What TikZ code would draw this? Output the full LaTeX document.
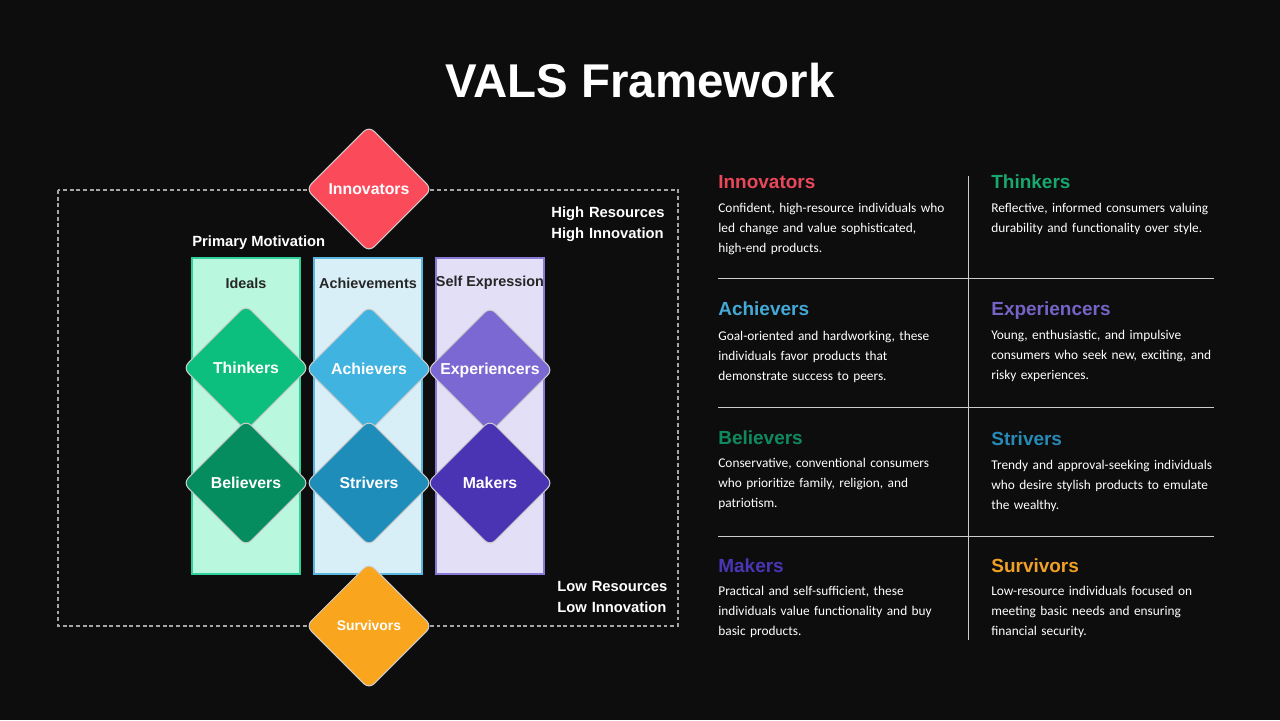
\documentclass[tikz,border=0pt]{standalone}
\usepackage{fontspec}
\setmainfont{Liberation Sans}
\newfontfamily\bodyfont{Carlito}
\usetikzlibrary{shapes.geometric}

\definecolor{bg}{HTML}{0D0D0D}
\definecolor{innov}{HTML}{FB4B5B}
\definecolor{surv}{HTML}{F9A61E}
\definecolor{think}{HTML}{0DBF7F}
\definecolor{believ}{HTML}{068D5F}
\definecolor{achiev}{HTML}{41B3E0}
\definecolor{striv}{HTML}{1E8DBA}
\definecolor{exper}{HTML}{7B68D2}
\definecolor{make}{HTML}{4B34B4}
\definecolor{idealsfill}{HTML}{B9F7DF}
\definecolor{idealsline}{HTML}{2FD19A}
\definecolor{achfill}{HTML}{D8EFF8}
\definecolor{achline}{HTML}{5AB8E0}
\definecolor{selffill}{HTML}{E3DFF6}
\definecolor{selfline}{HTML}{8A7AD8}
\definecolor{innovhd}{HTML}{E8485A}
\definecolor{thinkhd}{HTML}{17A870}
\definecolor{achievhd}{HTML}{44A9D6}
\definecolor{experhd}{HTML}{7563C6}
\definecolor{believhd}{HTML}{0F8A5F}
\definecolor{strivhd}{HTML}{2889B5}
\definecolor{makehd}{HTML}{4A35B5}
\definecolor{survhd}{HTML}{F0A024}

\begin{document}
\begin{tikzpicture}[x=0.02cm, y=-0.02cm,
    gem/.style={diamond, aspect=1, minimum width=2.52cm, minimum height=2.52cm, inner sep=0pt, rounded corners=4pt, draw=white!80!black, line width=0.6pt, text=white, font=\bfseries\fontsize{9}{10}\selectfont},
    band/.style={rectangle, minimum width=2.16cm, minimum height=6.32cm, line width=0.8pt},
    colhead/.style={text=black!85, inner sep=0pt, font=\bfseries\fontsize{8.2}{9}\selectfont},
    tag/.style={anchor=base west, inner sep=0pt, text=white, text width=3cm, align=left, font=\bfseries\fontsize{8.4}{12.5}\selectfont},
    heading/.style={anchor=base west, inner sep=0pt, font=\bfseries\fontsize{10.8}{12}\selectfont},
    blurb/.style={anchor=base west, inner sep=0pt, text=white, text width=5.2cm, align=left, font=\bodyfont\fontsize{7.6}{11.4}\selectfont},
    rule/.style={draw=white!80!black, line width=0.5pt}
]

\useasboundingbox[fill=bg] (0,0) rectangle (1280,720);

\node[anchor=base, text=white, font=\bfseries\fontsize{27}{30}\selectfont] (title) at (640,97) {VALS Framework};

% Resource frame
\draw[draw=white!65!black, line width=0.6pt, dash pattern=on 2.2pt off 1.6pt] (58,190) rectangle (678,626);

% Motivation columns
\node[band, fill=idealsfill, draw=idealsline] (ideals) at (246,416) {};
\node[band, fill=achfill, draw=achline] (achievements) at (368,416) {};
\node[band, fill=selffill, draw=selfline] (selfexpr) at (490,416) {};

\node[colhead] (idealshead) at (246,283) {Ideals};
\node[colhead] (achievhead) at (368,283) {Achievements};
\node[colhead] (selfhead) at (490,283) {Self Expression};

% Segments
\node[gem, fill=innov] (innovators) at (369,189) {Innovators};

\node[gem, fill=think] (thinkers) at (246,368) {Thinkers};
\node[gem, fill=believ] (believers) at (246,483) {Believers};
\node[gem, fill=achiev] (achievers) at (369,369) {Achievers};
\node[gem, fill=striv] (strivers) at (369,483) {Strivers};
\node[gem, fill=exper] (experiencers) at (490,370) {Experiencers};
\node[gem, fill=make] (makers) at (490,483) {Makers};

\node[gem, fill=surv, font=\bfseries\fontsize{7.9}{9}\selectfont] (survivors) at (369,626) {Survivors};

% Axis labels
\node[anchor=base west, inner sep=0pt, text=white, font=\bfseries\fontsize{8.4}{10}\selectfont] (motivation) at (192,246) {Primary Motivation};
\node[tag] (hightag) at (551,217) {High Resources\\High Innovation};
\node[tag] (lowtag) at (557,591) {Low Resources\\Low Innovation};

% Description grid
\draw[rule] (968,176) -- (968,640);
\draw[rule] (718,278) -- (1214,278);
\draw[rule] (718,407) -- (1214,407);
\draw[rule] (718,536) -- (1214,536);

\node[heading, text=innovhd] (innovhead) at (718,188) {Innovators};
\node[blurb] (innovtext) at (718,212) {Confident, high-resource individuals who\\led change and value sophisticated,\\high-end products.};

\node[heading, text=thinkhd] (thinkhead) at (991,188) {Thinkers};
\node[blurb] (thinktext) at (991,212) {Reflective, informed consumers valuing\\durability and functionality over style.};

\node[heading, text=achievhd] (achievhead2) at (718,315) {Achievers};
\node[blurb] (achievtext) at (718,340) {Goal-oriented and hardworking, these\\individuals favor products that\\demonstrate success to peers.};

\node[heading, text=experhd] (experhead) at (991,315) {Experiencers};
\node[blurb] (expertext) at (991,339) {Young, enthusiastic, and impulsive\\consumers who seek new, exciting, and\\risky experiences.};

\node[heading, text=believhd] (believhead) at (718,444) {Believers};
\node[blurb] (believtext) at (718,467) {Conservative, conventional consumers\\who prioritize family, religion, and\\patriotism.};

\node[heading, text=strivhd] (strivhead) at (991,445) {Strivers};
\node[blurb] (strivtext) at (991,469) {Trendy and approval-seeking individuals\\who desire stylish products to emulate\\the wealthy.};

\node[heading, text=makehd] (makehead) at (718,572) {Makers};
\node[blurb] (maketext) at (718,595) {Practical and self-sufficient, these\\individuals value functionality and buy\\basic products.};

\node[heading, text=survhd] (survhead) at (991,572) {Survivors};
\node[blurb] (survtext) at (991,595) {Low-resource individuals focused on\\meeting basic needs and ensuring\\financial security.};

\end{tikzpicture}
\end{document}
